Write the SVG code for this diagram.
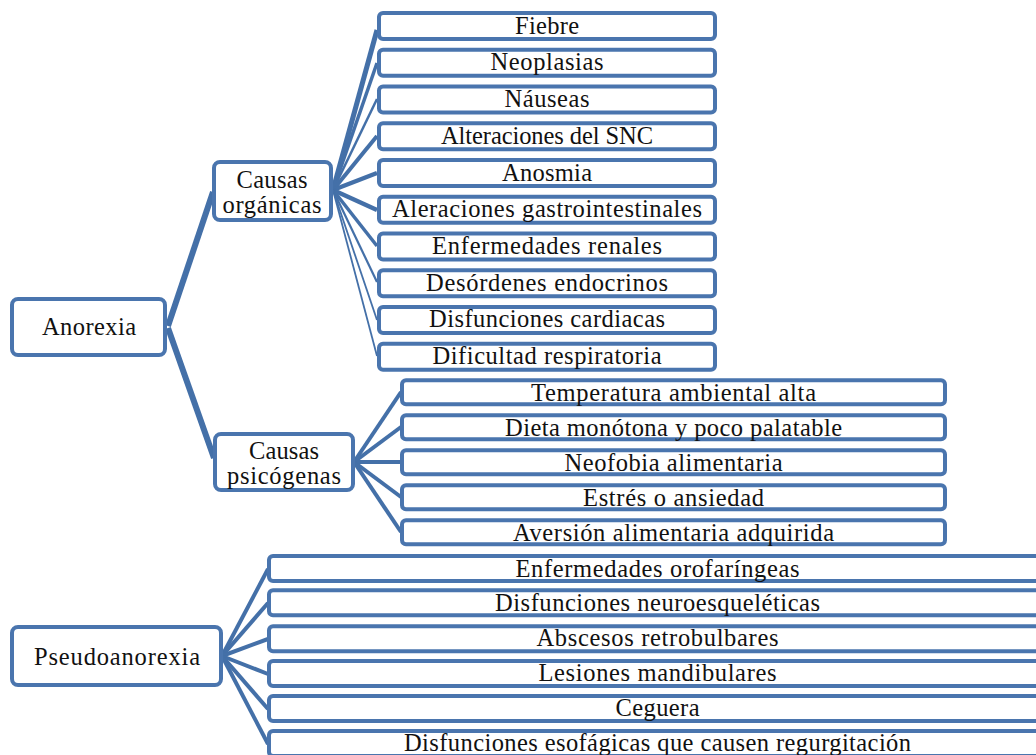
<svg xmlns="http://www.w3.org/2000/svg" width="1036" height="755" viewBox="0 0 1036 755">
<style>
.box{fill:#fff;stroke:#4A75AE;stroke-width:4}
.big{rx:6px;ry:6px}
.sm{rx:4px;ry:4px}
text{font-family:"Liberation Serif","Times New Roman",serif;font-size:24.5px;fill:#111;text-anchor:middle}
.c{stroke:#4470A8;fill:none;stroke-linecap:butt}
</style>
<rect width="1036" height="755" fill="#fff"/>
<g id="connectors">
<line class="c" x1="168" y1="326" x2="213" y2="192" stroke-width="6"/>
<line class="c" x1="168" y1="328" x2="214" y2="458" stroke-width="6"/>
<line class="c" x1="333" y1="190" x2="377" y2="30" stroke-width="5"/>
<line class="c" x1="333" y1="190" x2="377" y2="63" stroke-width="3.5"/>
<line class="c" x1="333" y1="190" x2="377" y2="99" stroke-width="2.5"/>
<line class="c" x1="333" y1="190" x2="377" y2="136" stroke-width="4"/>
<line class="c" x1="333" y1="190" x2="377" y2="173" stroke-width="4.5"/>
<line class="c" x1="333" y1="190" x2="377" y2="210" stroke-width="4.5"/>
<line class="c" x1="333" y1="190" x2="377" y2="246" stroke-width="3.5"/>
<line class="c" x1="333" y1="190" x2="377" y2="282" stroke-width="2.2"/>
<line class="c" x1="333" y1="190" x2="377" y2="320" stroke-width="1.8"/>
<line class="c" x1="333" y1="190" x2="377" y2="356" stroke-width="1.8"/>
<line class="c" x1="354" y1="462" x2="401" y2="392" stroke-width="4"/>
<line class="c" x1="354" y1="462" x2="401" y2="427" stroke-width="4"/>
<line class="c" x1="354" y1="462" x2="401" y2="462" stroke-width="4"/>
<line class="c" x1="354" y1="462" x2="401" y2="497" stroke-width="4"/>
<line class="c" x1="354" y1="462" x2="401" y2="532" stroke-width="4"/>
<line class="c" x1="222" y1="656" x2="268" y2="569" stroke-width="4"/>
<line class="c" x1="222" y1="656" x2="268" y2="603" stroke-width="4"/>
<line class="c" x1="222" y1="656" x2="268" y2="639" stroke-width="4"/>
<line class="c" x1="222" y1="656" x2="268" y2="674" stroke-width="4"/>
<line class="c" x1="222" y1="656" x2="268" y2="709" stroke-width="4"/>
<line class="c" x1="222" y1="656" x2="268" y2="744" stroke-width="4"/>
</g>
<g id="anorexia"><rect class="box big" x="12" y="299" width="153" height="56"/><text x="89" y="335" textLength="94">Anorexia</text></g>
<g id="causas-organicas"><rect class="box big" x="214" y="162" width="117" height="58"/><text x="272" y="188" textLength="71">Causas</text><text x="272" y="213" textLength="99">orgánicas</text></g>
<g id="causas-psicogenas"><rect class="box big" x="215" y="434" width="138" height="56"/><text x="284" y="459" textLength="70">Causas</text><text x="284" y="484" textLength="114">psicógenas</text></g>
<g id="pseudoanorexia"><rect class="box big" x="12" y="627" width="209" height="58"/><text x="117" y="665" textLength="166">Pseudoanorexia</text></g>
<g id="fiebre"><rect class="box sm" x="379" y="13" width="336" height="26"/><text x="547" y="33.5" textLength="64">Fiebre</text></g>
<g id="neoplasias"><rect class="box sm" x="379" y="49.7" width="336" height="26"/><text x="547" y="70.2" textLength="113">Neoplasias</text></g>
<g id="nauseas"><rect class="box sm" x="379" y="86.5" width="336" height="26"/><text x="547" y="107" textLength="85">Náuseas</text></g>
<g id="snc"><rect class="box sm" x="379" y="123.2" width="336" height="26"/><text x="547" y="143.7" textLength="212">Alteraciones del SNC</text></g>
<g id="anosmia"><rect class="box sm" x="379" y="160" width="336" height="26"/><text x="547" y="180.5" textLength="90">Anosmia</text></g>
<g id="gastro"><rect class="box sm" x="379" y="196.7" width="336" height="26"/><text x="547" y="217.2" textLength="310">Aleraciones gastrointestinales</text></g>
<g id="renales"><rect class="box sm" x="379" y="233.4" width="336" height="26"/><text x="547" y="253.9" textLength="230">Enfermedades renales</text></g>
<g id="endocrinos"><rect class="box sm" x="379" y="270.2" width="336" height="26"/><text x="547" y="290.7" textLength="242">Desórdenes endocrinos</text></g>
<g id="cardiacas"><rect class="box sm" x="379" y="306.9" width="336" height="26"/><text x="547" y="327.4" textLength="236">Disfunciones cardiacas</text></g>
<g id="respiratoria"><rect class="box sm" x="379" y="343.7" width="336" height="26"/><text x="547" y="364.2" textLength="229">Dificultad respiratoria</text></g>
<g id="temperatura"><rect class="box sm" x="402" y="380.3" width="543" height="24"/><text x="673.5" y="400.5" textLength="285">Temperatura ambiental alta</text></g>
<g id="dieta"><rect class="box sm" x="402" y="415.3" width="543" height="24"/><text x="673.5" y="435.5" textLength="337">Dieta monótona y poco palatable</text></g>
<g id="neofobia"><rect class="box sm" x="402" y="450.3" width="543" height="24"/><text x="673.5" y="470.5" textLength="218">Neofobia alimentaria</text></g>
<g id="estres"><rect class="box sm" x="402" y="485.3" width="543" height="24"/><text x="673.5" y="505.5" textLength="181">Estrés o ansiedad</text></g>
<g id="aversion"><rect class="box sm" x="402" y="520.3" width="543" height="24"/><text x="673.5" y="540.5" textLength="321">Aversión alimentaria adquirida</text></g>
<g id="orofaringeas"><rect class="box sm" x="269" y="556" width="777" height="25"/><text x="657.5" y="576.5" textLength="284">Enfermedades orofaríngeas</text></g>
<g id="neuroesqueleticas"><rect class="box sm" x="269" y="590.3" width="777" height="25"/><text x="657.5" y="611" textLength="325">Disfunciones neuroesqueléticas</text></g>
<g id="abscesos"><rect class="box sm" x="269" y="626.3" width="777" height="25"/><text x="657.5" y="646" textLength="242">Abscesos retrobulbares</text></g>
<g id="mandibulares"><rect class="box sm" x="269" y="661" width="777" height="25"/><text x="657.5" y="681" textLength="238">Lesiones mandibulares</text></g>
<g id="ceguera"><rect class="box sm" x="269" y="696" width="777" height="25"/><text x="657.5" y="716" textLength="84">Ceguera</text></g>
<g id="esofagicas"><rect class="box sm" x="269" y="731" width="777" height="25"/><text x="657.5" y="751" textLength="507">Disfunciones esofágicas que causen regurgitación</text></g>
</svg>
